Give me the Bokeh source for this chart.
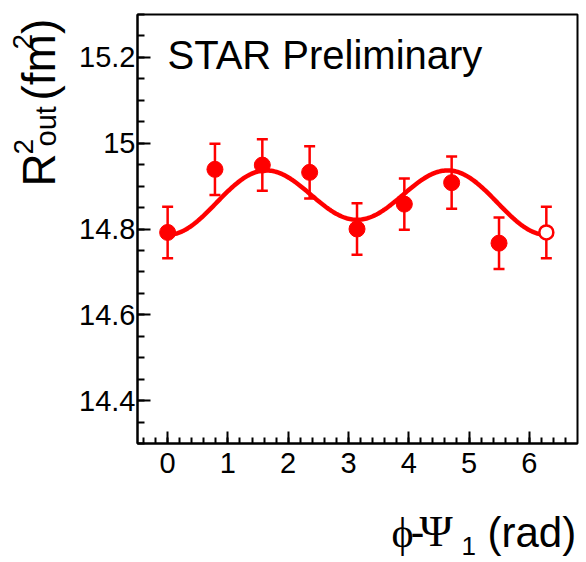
import numpy as np
from bokeh.plotting import figure
from bokeh.models import (ColumnDataSource, Whisker, TeeHead, Label, FixedTicker,
                          CustomJSTickFormatter, Range1d)
from bokeh.core.properties import value
from bokeh.embed import file_html
from bokeh.resources import INLINE

# ---- data ----
phi = [0.0, 0.785, 1.571, 2.356, 3.142, 3.927, 4.712, 5.498]
r2out = [14.792, 14.939, 14.949, 14.932, 14.800, 14.858, 14.908, 14.767]
r2err = [0.060, 0.060, 0.060, 0.061, 0.060, 0.060, 0.061, 0.060]
# mirrored (open) point at 2*pi
phi_open = [6.283]
r2out_open = [14.792]
r2err_open = [0.060]
# fit: a + c1*cos(phi) + c2*cos(2*phi)
fit_a, fit_c1, fit_c2 = 14.870, -0.0175, -0.066
fit_range = [0.0, 6.283]

x_ticks = [0, 1, 2, 3, 4, 5, 6]
y_ticks = [14.4, 14.6, 14.8, 15.0, 15.2]
x_lim = (-0.5, 6.8)
y_lim = (14.3, 15.3)

RED = "#ff0000"
SANS = "Liberation Sans"
SERIF = "Liberation Serif"

p = figure(width=586, height=562, output_backend="svg", toolbar_location=None,
           x_range=Range1d(*x_lim), y_range=Range1d(*y_lim),
           min_border_left=137, min_border_right=9, min_border_top=14,
           min_border_bottom=119)
p.background_fill_color = "white"
p.border_fill_color = "white"
p.grid.visible = False
p.outline_line_color = "black"
p.outline_line_width = 2

for ax in (p.xaxis[0], p.yaxis[0]):
    ax.axis_line_width = 2
    ax.major_tick_line_width = 2
    ax.minor_tick_line_width = 2
    ax.major_tick_out = 0
    ax.minor_tick_out = 0
    ax.major_label_text_font = SANS
    ax.major_label_text_font_size = "29px"
    ax.major_label_text_color = "black"

p.xaxis.ticker = FixedTicker(ticks=x_ticks,
                             minor_ticks=[i / 5 for i in range(-2, 34)])
p.xaxis.major_tick_in = 12
p.xaxis.minor_tick_in = 6
p.xaxis.major_label_standoff = 9

p.yaxis.ticker = FixedTicker(ticks=y_ticks,
                             minor_ticks=[14.3 + i * 0.05 for i in range(21)])
p.yaxis.formatter = CustomJSTickFormatter(code="return String(Math.round(tick*10)/10)")
p.yaxis.major_tick_in = 13
p.yaxis.minor_tick_in = 7
p.yaxis.major_label_standoff = 2

# fit curve
xf = np.linspace(fit_range[0], fit_range[1], 300)
yf = fit_a + fit_c1 * np.cos(xf) + fit_c2 * np.cos(2 * xf)
p.line(xf, yf, line_color=RED, line_width=4.5)

# error bars
src = ColumnDataSource(dict(x=phi, y=r2out,
                            lo=[v - e for v, e in zip(r2out, r2err)],
                            hi=[v + e for v, e in zip(r2out, r2err)]))
src_o = ColumnDataSource(dict(x=phi_open, y=r2out_open,
                              lo=[v - e for v, e in zip(r2out_open, r2err_open)],
                              hi=[v + e for v, e in zip(r2out_open, r2err_open)]))
for s in (src, src_o):
    w = Whisker(source=s, base="x", lower="lo", upper="hi", line_color=RED, line_width=2.5,
                upper_head=TeeHead(size=11, line_color=RED, line_width=2.5),
                lower_head=TeeHead(size=11, line_color=RED, line_width=2.5))
    p.add_layout(w)

p.scatter("x", "y", source=src, size=16, fill_color=RED, line_color=RED)
p.scatter("x", "y", source=src_o, size=14, fill_color="white", line_color=RED, line_width=2.5)

# title text inside the frame
p.add_layout(Label(x=30, y=389, x_units="screen", y_units="screen", text="STAR Preliminary",
                   text_font=SANS, text_font_size="40px", text_color="black",
                   text_align="left", text_baseline="alphabetic"))

# axis titles: text glyphs anchored at the frame's lower-left corner, offset in pixels,
# drawn at overlay level so that they are not clipped to the frame
def txt(s, dx, dy, size, font=SANS, angle=0.0):
    p.text(x=[x_lim[0]], y=[y_lim[0]], text=[s], x_offset=dx, y_offset=dy,
           angle=angle, text_font=value(font), text_font_size=value(size),
           text_color="black", text_align="left", text_baseline="alphabetic",
           level="overlay")

A = np.pi / 2
# R^2_out (fm^2)
txt("R", -99, -257, "46px", angle=A)
txt("2", -114, -289, "28px", angle=A)
txt("out", -92, -297, "29px", angle=A)
txt("(fm)", -99, -343, "46px", angle=A)
txt("2", -115, -394, "28px", angle=A)

# phi-Psi_1 (rad)
txt("\u03d5", 254, 89, "42px", font=SERIF)
txt("-", 273, 89, "42px")
txt("\u03a8", 282, 87, "45px", font=SERIF)
txt("1", 324, 102, "26px")
txt("(rad)", 350, 89, "42px")

open("out.html", "w").write(file_html(p, INLINE))
